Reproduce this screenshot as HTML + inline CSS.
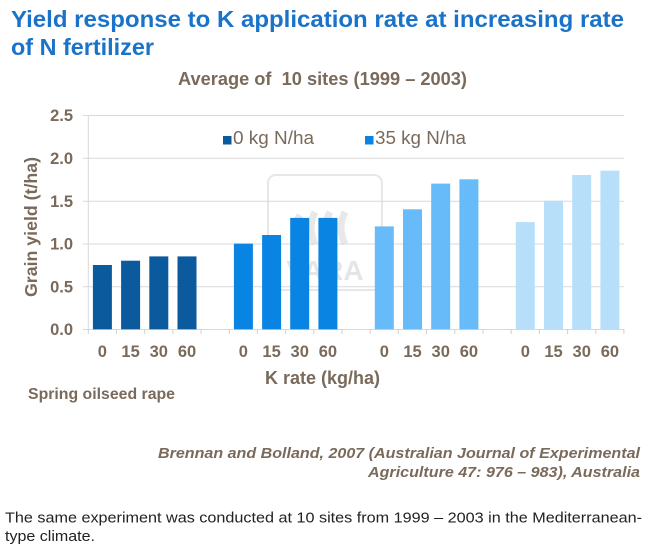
<!DOCTYPE html>
<html><head><meta charset="utf-8"><style>
html,body{margin:0;padding:0;background:#fff;}
svg{display:block;}
</style></head><body>
<svg width="656" height="551" viewBox="0 0 656 551" xmlns="http://www.w3.org/2000/svg">
<rect width="656" height="551" fill="#fff"/>
<!-- Title -->
<g font-family="Liberation Sans, Arial, sans-serif" font-weight="bold" fill="#1a73c9" font-size="23.5">
<text x="11" y="27" textLength="613" lengthAdjust="spacingAndGlyphs">Yield response to K application rate at increasing rate</text>
<text x="11" y="55" textLength="143" lengthAdjust="spacingAndGlyphs">of N fertilizer</text>
</g>
<text x="178" y="85" font-family="Liberation Sans, Arial, sans-serif" font-weight="bold" font-size="18" fill="#796a5b" textLength="289" lengthAdjust="spacingAndGlyphs">Average of&#160; 10 sites (1999 – 2003)</text>

<!-- watermark -->
<g opacity="0.55">
<rect x="268" y="175" width="114" height="115" rx="8" fill="none" stroke="#d4d4d4" stroke-width="2"/>
<text x="325" y="280" text-anchor="middle" font-family="Liberation Sans, Arial, sans-serif" font-weight="bold" font-size="28" fill="#d0d0d0">VARA</text>
<path d="M300 215 q-8 14 0 28 M315 212 q-8 16 0 32 M330 212 q-8 16 0 32 M345 212 q-8 16 0 32" stroke="#d6d6d6" stroke-width="7" fill="none"/>
</g>

<!-- gridlines -->
<g stroke="#d9d9d9" stroke-width="1">
<line x1="83" y1="115.5" x2="624" y2="115.5"/>
<line x1="83" y1="158.3" x2="624" y2="158.3"/>
<line x1="83" y1="201.2" x2="624" y2="201.2"/>
<line x1="83" y1="244" x2="624" y2="244"/>
<line x1="83" y1="286.8" x2="624" y2="286.8"/>
<line x1="83" y1="329.5" x2="624" y2="329.5"/>
<line x1="88.3" y1="115" x2="88.3" y2="330"/>
</g>
<g stroke="#d0d0d0" stroke-width="1">
<line x1="88.3" y1="329" x2="88.3" y2="334"/>
<line x1="116.5" y1="329" x2="116.5" y2="334"/>
<line x1="144.7" y1="329" x2="144.7" y2="334"/>
<line x1="172.9" y1="329" x2="172.9" y2="334"/>
<line x1="201.1" y1="329" x2="201.1" y2="334"/>
<line x1="229.3" y1="329" x2="229.3" y2="334"/>
<line x1="257.4" y1="329" x2="257.4" y2="334"/>
<line x1="285.6" y1="329" x2="285.6" y2="334"/>
<line x1="313.8" y1="329" x2="313.8" y2="334"/>
<line x1="342" y1="329" x2="342" y2="334"/>
<line x1="370.2" y1="329" x2="370.2" y2="334"/>
<line x1="398.4" y1="329" x2="398.4" y2="334"/>
<line x1="426.6" y1="329" x2="426.6" y2="334"/>
<line x1="454.8" y1="329" x2="454.8" y2="334"/>
<line x1="483" y1="329" x2="483" y2="334"/>
<line x1="511.2" y1="329" x2="511.2" y2="334"/>
<line x1="539.4" y1="329" x2="539.4" y2="334"/>
<line x1="567.6" y1="329" x2="567.6" y2="334"/>
<line x1="595.8" y1="329" x2="595.8" y2="334"/>
<line x1="623.9" y1="329" x2="623.9" y2="334"/>
</g>

<!-- bars -->
<g fill="#0b5a9e">
<rect x="92.9" y="265.0" width="19" height="64.3"/>
<rect x="121.1" y="260.7" width="19" height="68.6"/>
<rect x="149.3" y="256.4" width="19" height="72.9"/>
<rect x="177.5" y="256.4" width="19" height="72.9"/>
</g>
<g fill="#0a84e2">
<rect x="233.9" y="243.6" width="19" height="85.7"/>
<rect x="262.1" y="235.0" width="19" height="94.3"/>
<rect x="290.2" y="217.9" width="19" height="111.4"/>
<rect x="318.4" y="217.9" width="19" height="111.4"/>
</g>
<g fill="#66bbf8">
<rect x="374.8" y="226.4" width="19" height="102.9"/>
<rect x="403.0" y="209.3" width="19" height="120.0"/>
<rect x="431.2" y="183.6" width="19" height="145.7"/>
<rect x="459.4" y="179.3" width="19" height="150.0"/>
</g>
<g fill="#b8dffa">
<rect x="515.8" y="222.1" width="19" height="107.2"/>
<rect x="544.0" y="200.7" width="19" height="128.6"/>
<rect x="572.2" y="175.0" width="19" height="154.3"/>
<rect x="600.4" y="170.7" width="19" height="158.6"/>
</g>

<!-- legend -->
<rect x="223" y="136" width="8.5" height="8.5" fill="#0b5a9e"/>
<text x="233" y="144" font-family="Liberation Sans, Arial, sans-serif" font-size="18" fill="#796a5b" textLength="81" lengthAdjust="spacingAndGlyphs">0 kg N/ha</text>
<rect x="365" y="136" width="8.5" height="8.5" fill="#0a84e2"/>
<text x="375" y="144" font-family="Liberation Sans, Arial, sans-serif" font-size="18" fill="#796a5b" textLength="91" lengthAdjust="spacingAndGlyphs">35 kg N/ha</text>

<!-- y labels -->
<g font-family="Liberation Sans, Arial, sans-serif" font-weight="bold" font-size="16.5" fill="#796a5b" text-anchor="end">
<text x="73" y="121">2.5</text>
<text x="73" y="164">2.0</text>
<text x="73" y="207">1.5</text>
<text x="73" y="249.5">1.0</text>
<text x="73" y="292.5">0.5</text>
<text x="73" y="335">0.0</text>
</g>
<text transform="translate(37,227) rotate(-90)" text-anchor="middle" font-family="Liberation Sans, Arial, sans-serif" font-weight="bold" font-size="17.5" fill="#796a5b" textLength="140" lengthAdjust="spacingAndGlyphs">Grain yield (t/ha)</text>

<!-- x labels -->
<g font-family="Liberation Sans, Arial, sans-serif" font-weight="bold" font-size="16.5" fill="#796a5b" text-anchor="middle">
<text x="102.4" y="357">0</text><text x="130.6" y="357">15</text><text x="158.8" y="357">30</text><text x="187" y="357">60</text>
<text x="243.4" y="357">0</text><text x="271.6" y="357">15</text><text x="299.7" y="357">30</text><text x="327.9" y="357">60</text>
<text x="384.3" y="357">0</text><text x="412.5" y="357">15</text><text x="440.7" y="357">30</text><text x="468.9" y="357">60</text>
<text x="525.3" y="357">0</text><text x="553.5" y="357">15</text><text x="581.7" y="357">30</text><text x="609.9" y="357">60</text>
</g>
<text x="265" y="384" font-family="Liberation Sans, Arial, sans-serif" font-weight="bold" font-size="18" fill="#796a5b" textLength="115" lengthAdjust="spacingAndGlyphs">K rate (kg/ha)</text>
<text x="28" y="399" font-family="Liberation Sans, Arial, sans-serif" font-weight="bold" font-size="15.5" fill="#796a5b" textLength="147" lengthAdjust="spacingAndGlyphs">Spring oilseed rape</text>

<!-- citation -->
<g font-family="Liberation Sans, Arial, sans-serif" font-weight="bold" font-style="italic" font-size="14.5" fill="#796a5b">
<text x="158" y="458" textLength="482" lengthAdjust="spacingAndGlyphs">Brennan and Bolland, 2007 (Australian Journal of Experimental</text>
<text x="368" y="477" textLength="272" lengthAdjust="spacingAndGlyphs">Agriculture 47: 976 – 983), Australia</text>
</g>

<!-- paragraph -->
<g font-family="Liberation Sans, Arial, sans-serif" font-size="15" fill="#222">
<text x="5" y="522.5" textLength="637" lengthAdjust="spacingAndGlyphs">The same experiment was conducted at 10 sites from 1999 – 2003 in the Mediterranean-</text>
<text x="5" y="541" textLength="90" lengthAdjust="spacingAndGlyphs">type climate.</text>
</g>
</svg>
</body></html>
